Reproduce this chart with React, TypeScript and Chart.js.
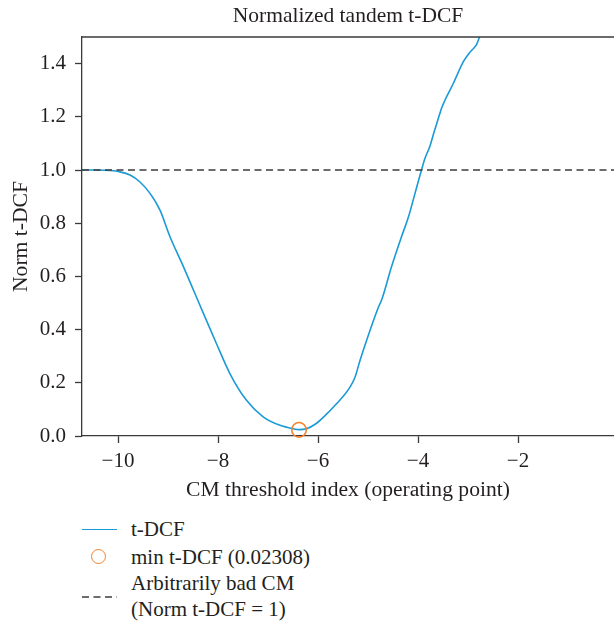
import React, { useEffect, useRef } from 'react';
import { Chart, registerables } from 'chart.js';

Chart.register(...registerables);

// ---- data ----
const CM_THRESHOLD = [
  -10.72, -10.4, -10.16, -9.96, -9.76, -9.56, -9.36, -9.16, -8.96, -8.69, -8.49, -8.29, -8.03,
  -7.76, -7.43, -7.09, -6.76, -6.49, -6.38, -6.23, -6.05, -5.89, -5.63, -5.36, -5.26, -5.16,
  -4.96, -4.79, -4.73, -4.53, -4.33, -4.19, -4.06, -3.93, -3.86, -3.76, -3.69, -3.56,
  -3.53, -3.29, -3.09, -2.95, -2.83, -2.77, -2.68,
];
const NORM_TDCF = [
  1.0, 1.0, 0.998, 0.993, 0.981, 0.955, 0.912, 0.849, 0.749, 0.636, 0.548, 0.46, 0.347,
  0.234, 0.134, 0.071, 0.04, 0.027, 0.024, 0.027, 0.045, 0.071, 0.121, 0.184, 0.221, 0.284,
  0.397, 0.485, 0.51, 0.636, 0.749, 0.824, 0.912, 1.0, 1.044, 1.09, 1.135, 1.214,
  1.232, 1.327, 1.408, 1.445, 1.471, 1.5, 1.54,
];
const MIN_POINT_X = -6.38;
const MIN_TDCF = 0.02308;
const BAD_CM_LEVEL = 1;

const X_TICKS = [-10, -8, -6, -4, -2];
const Y_TICKS = [0, 0.2, 0.4, 0.6, 0.8, 1.0, 1.2, 1.4];
const X_MIN = -10.72;
const X_MAX = -0.08;
const Y_MIN = 0;
const Y_MAX = 1.5;

const TITLE = 'Normalized tandem t-DCF';
const X_LABEL = 'CM threshold index (operating point)';
const Y_LABEL = 'Norm t-DCF';
const LEGEND_CURVE = 't-DCF';
const LEGEND_MIN = `min t-DCF (${MIN_TDCF})`;
const LEGEND_BAD = ['Arbitrarily bad CM', '(Norm t-DCF = 1)'];

// ---- styles ----
const FONT_FAMILY = '"Liberation Serif", "Times New Roman", serif';
const TEXT = '#231f20';
const AXIS = '#3a3a3a';
const BLUE = '#1a9ad6';
const ORANGE = '#f5822a';
const DASH = '#3c3c3c';

const W = 614;
const H = 503;

const topSpine = {
  id: 'topSpine',
  afterDatasetsDraw(chart: any) {
    const { ctx, chartArea } = chart;
    ctx.save();
    ctx.strokeStyle = AXIS;
    ctx.lineWidth = 1.3;
    ctx.beginPath();
    ctx.moveTo(chartArea.left, chartArea.top);
    ctx.lineTo(chartArea.right, chartArea.top);
    ctx.stroke();
    ctx.restore();
  },
};

const fmtX = (v: number) => (v < 0 ? '\u2212' + Math.abs(v) : String(v));

export default function App() {
  const ref = useRef<HTMLCanvasElement | null>(null);

  useEffect(() => {
    if (!ref.current) return;
    const tickFont = { family: FONT_FAMILY, size: 21, weight: 'normal' as const };
    const labelFont = { family: FONT_FAMILY, size: 21.6, weight: 'normal' as const };
    const titleFont = { family: FONT_FAMILY, size: 21.5, weight: 'normal' as const };
    const chart = new Chart(ref.current, {
      type: 'line',
      data: {
        datasets: [
          {
            type: 'scatter' as any,
            label: LEGEND_MIN,
            data: [{ x: MIN_POINT_X, y: MIN_TDCF }],
            pointRadius: 7.3,
            pointBorderWidth: 1.6,
            pointBorderColor: ORANGE,
            pointBackgroundColor: 'rgba(0,0,0,0)',
            showLine: false,
            clip: false as any,
            order: 0,
          },
          {
            label: 'bad',
            data: [
              { x: X_MIN, y: BAD_CM_LEVEL },
              { x: X_MAX, y: BAD_CM_LEVEL },
            ],
            borderColor: DASH,
            borderWidth: 1.5,
            borderDash: [7, 4.5],
            pointRadius: 0,
            tension: 0,
            order: 1,
          },
          {
            label: LEGEND_CURVE,
            data: CM_THRESHOLD.map((x, i) => ({ x, y: NORM_TDCF[i] })),
            borderColor: BLUE,
            borderWidth: 1.6,
            pointRadius: 0,
            cubicInterpolationMode: 'monotone',
            order: 2,
          },
        ],
      },
      options: {
        responsive: false,
        animation: false,
        layout: { autoPadding: false, padding: { left: 0, right: 0, top: 0, bottom: 0 } },
        plugins: {
          legend: { display: false },
          tooltip: { enabled: false },
          title: {
            display: true,
            text: TITLE,
            color: TEXT,
            font: titleFont,
            fullSize: false,
            padding: { top: 3, bottom: 8.2 },
          } as any,
        },
        scales: {
          x: {
            type: 'linear',
            min: X_MIN,
            max: X_MAX,
            afterBuildTicks: (s: any) => {
              s.ticks = X_TICKS.map((v) => ({ value: v }));
            },
            afterFit: (s: any) => {
              s.height = H - 436;
            },
            ticks: {
              callback: (v: any) => fmtX(Number(v)),
              color: TEXT,
              font: tickFont,
              padding: 6,
              maxRotation: 0,
              autoSkip: false,
            },
            grid: {
              drawOnChartArea: false,
              drawTicks: true,
              tickLength: 7,
              tickColor: AXIS,
              tickWidth: 1.3,
            },
            border: { display: true, color: AXIS, width: 1.3 },
            title: {
              display: true,
              text: X_LABEL,
              color: TEXT,
              font: labelFont,
              padding: { top: 0, bottom: 0 },
            },
          },
          y: {
            type: 'linear',
            min: Y_MIN,
            max: Y_MAX,
            afterBuildTicks: (s: any) => {
              s.ticks = Y_TICKS.map((v) => ({ value: v }));
            },
            afterFit: (s: any) => {
              s.width = 82;
            },
            ticks: {
              callback: (v: any) => Number(v).toFixed(1),
              color: TEXT,
              font: tickFont,
              padding: 9,
              autoSkip: false,
            },
            grid: {
              drawOnChartArea: false,
              drawTicks: true,
              tickLength: 7,
              tickColor: AXIS,
              tickWidth: 1.3,
            },
            border: { display: true, color: AXIS, width: 1.3 },
            title: {
              display: true,
              text: Y_LABEL,
              color: TEXT,
              font: labelFont,
              padding: { top: 8, bottom: 0 },
            },
          },
        },
      },
      plugins: [topSpine],
    });
    return () => chart.destroy();
  }, []);

  const textStyle: React.CSSProperties = {
    position: 'absolute',
    left: 131,
    fontFamily: FONT_FAMILY,
    fontSize: 21,
    lineHeight: '26px',
    color: TEXT,
    whiteSpace: 'nowrap',
  };

  return (
    <div style={{ position: 'absolute', left: 0, top: 0, width: W, height: 624, background: '#fff', overflow: 'hidden' }}>
      <canvas ref={ref} width={W} height={H} style={{ display: 'block', width: W, height: H }} />
      {/* legend */}
      <div style={{ position: 'absolute', left: 82, top: 528.6, width: 35, height: 1.6, background: BLUE }} />
      <div style={{ ...textStyle, top: 529 - 13 }}>{LEGEND_CURVE}</div>
      <div
        style={{
          position: 'absolute',
          left: 98.3 - 7.8,
          top: 556.7 - 7.8,
          width: 15.6,
          height: 15.6,
          boxSizing: 'border-box',
          border: `1.6px solid ${ORANGE}`,
          borderRadius: '50%',
        }}
      />
      <div style={{ ...textStyle, top: 557 - 13 }}>{LEGEND_MIN}</div>
      <svg style={{ position: 'absolute', left: 82, top: 592 }} width={36} height={10}>
        <line x1={0} y1={5} x2={35} y2={5} stroke={DASH} strokeWidth={1.5} strokeDasharray="7 4.5" />
      </svg>
      <div style={{ ...textStyle, top: 583 - 13 }}>
        {LEGEND_BAD[0]}
        <br />
        {LEGEND_BAD[1]}
      </div>
    </div>
  );
}
